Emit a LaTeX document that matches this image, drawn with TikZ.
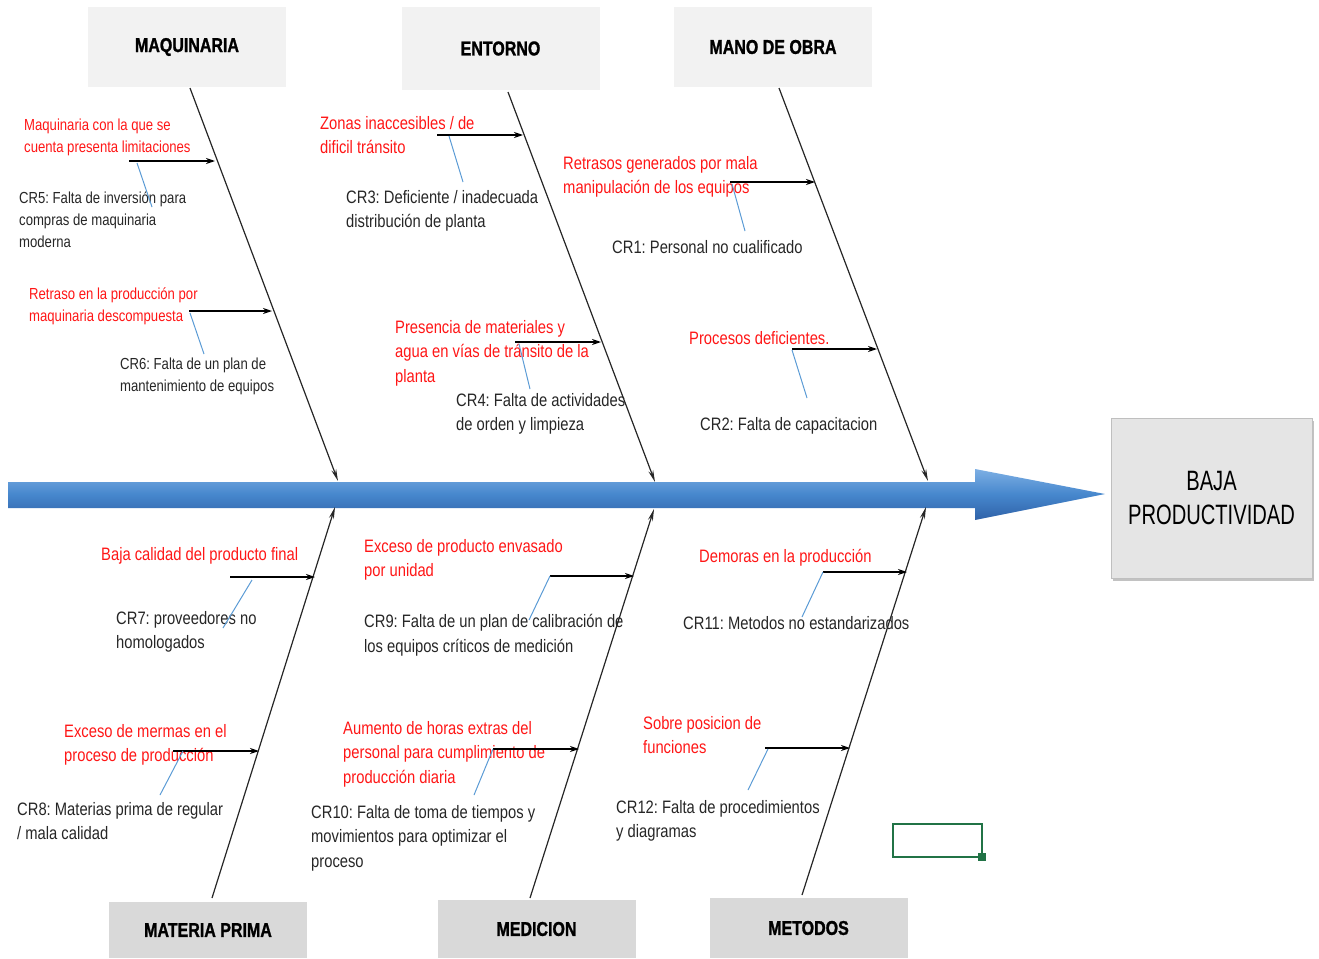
\documentclass[tikz,border=0pt]{standalone}
\usepackage{fontspec}
\setmainfont{Liberation Sans}
\newfontfamily\condA{Liberation Sans}[FakeStretch=0.82]
\newfontfamily\condB{Liberation Sans}[FakeStretch=0.72]
\newfontfamily\condC{Liberation Sans}[FakeStretch=0.8, FakeBold=1.2]
\usetikzlibrary{arrows.meta,shadows}
\frenchspacing

\definecolor{causered}{RGB}{255,22,22}
\definecolor{linkblue}{RGB}{91,155,213}
\definecolor{catlight}{RGB}{242,242,242}
\definecolor{catdark}{RGB}{217,217,217}
\definecolor{effectgray}{RGB}{229,229,229}
\definecolor{spinetop}{RGB}{125,175,228}
\definecolor{spinemid}{RGB}{70,135,205}
\definecolor{spinebot}{RGB}{48,98,168}
\definecolor{cellgreen}{RGB}{33,115,70}

\begin{document}
\begin{tikzpicture}[x=1pt,y=-1pt,
  cat/.style={inner sep=0pt, minimum width=198pt, text=black,
    font=\condC\bfseries\fontsize{20}{22}\selectfont},
  catup/.style={cat, fill=catlight},
  catdown/.style={cat, fill=catdark},
  effect/.style={fill=effectgray, draw=black!25, line width=1pt,
    minimum width=201pt, minimum height=160pt, align=center, inner sep=0pt,
    font=\condB\fontsize{28}{34}\selectfont,
    drop shadow={shadow xshift=1.5pt, shadow yshift=-3pt, opacity=0.4, fill=black!60}},
  redtxt/.style={text=causered, anchor=west, align=left, inner sep=0pt,
    font=\condA\fontsize{18}{24.5}\selectfont},
  redsmall/.style={redtxt, font=\condA\fontsize{16}{22}\selectfont},
  blktxt/.style={text=black!85, anchor=west, align=left, inner sep=0pt,
    font=\condA\fontsize{18}{24.5}\selectfont},
  blksmall/.style={blktxt, font=\condA\fontsize{16}{22}\selectfont},
  bone/.style={draw=black!85, line width=1.2pt, -{Stealth[length=12pt,width=5pt]}},
  twig/.style={draw=black, line width=1.3pt, -{Stealth[length=9pt,width=6pt]}},
  link/.style={draw=linkblue, line width=1pt},
]
\useasboundingbox (0,0) rectangle (1319,958);

% main spine
\path[top color=spinetop, bottom color=spinebot, middle color=spinemid]
  (8,482) -- (975,482) -- (975,469) -- (1105,494) -- (975,520) -- (975,508) -- (8,508) -- cycle;

% effect
\node[effect] (eff) at (1211.5,498) {BAJA\\PRODUCTIVIDAD};

% category boxes
\node[catup, minimum height=80pt] (maq) at (187,47) {MAQUINARIA};
\node[catup, minimum height=83pt] (ent) at (500.5,48.5) {ENTORNO};
\node[catup, minimum height=80pt] (mano) at (773,47) {MANO DE OBRA};
\node[catdown, minimum height=56pt] (mp) at (208,930) {MATERIA PRIMA};
\node[catdown, minimum height=58pt] (med) at (536.5,929) {MEDICION};
\node[catdown, minimum height=60pt] (met) at (808.5,928) {METODOS};

% bone end points
\coordinate (maqT) at (190,88);   \coordinate (maqH) at (338,481);
\coordinate (entT) at (508,92);   \coordinate (entH) at (655,482);
\coordinate (manoT) at (779,88);  \coordinate (manoH) at (928,481);
\coordinate (mpT) at (212,898);   \coordinate (mpH) at (335,507);
\coordinate (medT) at (530,898);  \coordinate (medH) at (654,509);
\coordinate (metT) at (802,895);  \coordinate (metH) at (926,507);

\draw[bone] (maqT) -- (maqH);
\draw[bone] (entT) -- (entH);
\draw[bone] (manoT) -- (manoH);
\draw[bone] (mpT) -- (mpH);
\draw[bone] (medT) -- (medH);
\draw[bone] (metT) -- (metH);

% causes (red)
\node[redsmall] (c1) at (24,137) {Maquinaria con la que se\\cuenta presenta limitaciones};
\node[redsmall] (c2) at (29,306) {Retraso en la producción por\\maquinaria descompuesta};
\node[redtxt] (c3) at (320,135) {Zonas inaccesibles / de\\dificil tránsito};
\node[redtxt] (c4) at (395,353) {Presencia de materiales y\\agua en vías de tránsito de la\\planta};
\node[redtxt] (c5) at (563,177) {Retrasos generados por mala\\manipulación de los equipos};
\node[redtxt] (c6) at (689,338) {Procesos deficientes.};
\node[redtxt] (c7) at (101,556) {Baja calidad del producto final};
\node[redtxt] (c8) at (64,745) {Exceso de mermas en el\\proceso de producción};
\node[redtxt] (c9) at (364,560) {Exceso de producto envasado\\por unidad};
\node[redtxt] (c10) at (343,754) {Aumento de horas extras del\\personal para cumplimiento de\\producción diaria};
\node[redtxt] (c11) at (699,558) {Demoras en la producción};
\node[redtxt] (c12) at (643,735) {Sobre posicion de\\funciones};

% root causes (black)
\node[blksmall] (r5) at (19,220) {CR5: Falta de inversión para\\compras de maquinaria\\moderna};
\node[blksmall] (r6) at (120,376) {CR6: Falta de un plan de\\mantenimiento de equipos};
\node[blktxt] (r3) at (346,211) {CR3: Deficiente / inadecuada\\distribución de planta};
\node[blktxt] (r4) at (456,414) {CR4: Falta de actividades\\de orden y limpieza};
\node[blktxt] (r1) at (612,247) {CR1: Personal no cualificado};
\node[blktxt] (r2) at (700,426) {CR2: Falta de capacitacion};
\node[blktxt] (r7) at (116,632) {CR7: proveedores no\\homologados};
\node[blktxt] (r8) at (17,821) {CR8: Materias prima de regular\\/ mala calidad};
\node[blktxt] (r9) at (364,635) {CR9: Falta de un plan de calibración de\\los equipos críticos de medición};
\node[blktxt] (r10) at (311,838) {CR10: Falta de toma de tiempos y\\movimientos para optimizar el\\proceso};
\node[blktxt] (r11) at (683,623) {CR11: Metodos no estandarizados};
\node[blktxt] (r12) at (616,821) {CR12: Falta de procedimientos\\y diagramas};

% twig arrows onto the bones
\coordinate (t1a) at (129,161);  \coordinate (t1b) at (215,161);
\coordinate (t2a) at (189,311);  \coordinate (t2b) at (272,311);
\coordinate (t3a) at (437,135);  \coordinate (t3b) at (523,135);
\coordinate (t4a) at (515,342);  \coordinate (t4b) at (601,342);
\coordinate (t5a) at (730,182);  \coordinate (t5b) at (815,182);
\coordinate (t6a) at (792,349);  \coordinate (t6b) at (877,349);
\coordinate (t7a) at (230,577);  \coordinate (t7b) at (315,577);
\coordinate (t8a) at (173,751);  \coordinate (t8b) at (259,751);
\coordinate (t9a) at (550,576);  \coordinate (t9b) at (634,576);
\coordinate (t10a) at (493,749); \coordinate (t10b) at (579,749);
\coordinate (t11a) at (823,572); \coordinate (t11b) at (907,572);
\coordinate (t12a) at (765,748); \coordinate (t12b) at (850,748);

\foreach \i in {1,...,12} { \draw[twig] (t\i a) -- (t\i b); }

% links from each twig to its root cause
\coordinate (l1) at (152,207);
\coordinate (l2) at (204,354);
\coordinate (l3) at (463,182);
\coordinate (l4) at (530,389);
\coordinate (l5) at (745,231);
\coordinate (l6) at (807,398);
\coordinate (l7) at (223,628);
\coordinate (l8) at (160,795);
\coordinate (l9) at (529,620);
\coordinate (l10) at (474,795);
\coordinate (l11) at (802,617);
\coordinate (l12) at (748,790);

\draw[link] (137,163) -- (l1);
\draw[link] (190,313) -- (l2);
\draw[link] (449,136) -- (l3);
\draw[link] (519,344) -- (l4);
\draw[link] (732,184) -- (l5);
\draw[link] (792,350) -- (l6);
\draw[link] (252,580) -- (l7);
\draw[link] (183,751) -- (l8);
\draw[link] (t9a) -- (l9);
\draw[link] (t10a) -- (l10);
\draw[link] (t11a) -- (l11);
\draw[link] (768,749) -- (l12);

% selected cell marker
\node[draw=cellgreen, line width=2.5pt, minimum width=89pt, minimum height=33pt, inner sep=0pt] (cell) at (937.5,840.5) {};
\fill[cellgreen] (978,853) rectangle (986,861);
\end{tikzpicture}
\end{document}
